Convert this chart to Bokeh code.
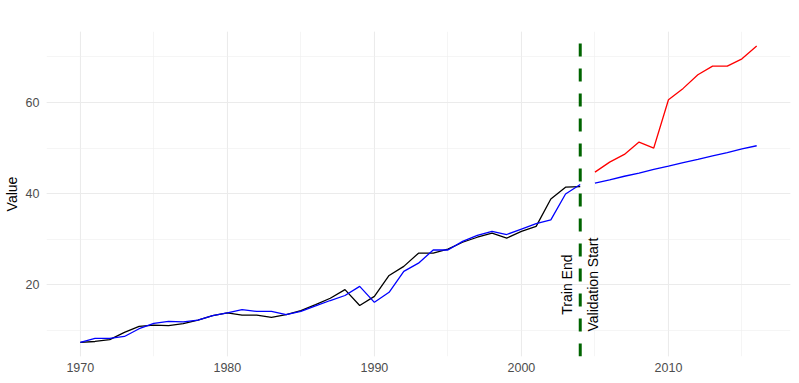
import math
from bokeh.plotting import figure
from bokeh.models import Range1d, SingleIntervalTicker, Span
from bokeh.core.properties import value
from bokeh.embed import file_html
from bokeh.resources import INLINE

# ---- data ----
train_years = list(range(1970, 2005))
actual = [7.3, 7.5, 7.9, 9.5, 10.8, 11.1, 11.0, 11.4, 12.2, 13.2,
          13.8, 13.3, 13.3, 12.8, 13.4, 14.3, 15.6, 17.0, 18.9, 15.4,
          17.4, 22.0, 24.0, 26.9, 26.9, 27.8, 29.3, 30.4, 31.3, 30.2,
          31.7, 32.8, 38.8, 41.4, 41.5]
fitted = [7.3, 8.2, 8.2, 8.6, 10.3, 11.5, 11.9, 11.8, 12.2, 13.2,
          13.8, 14.5, 14.1, 14.1, 13.4, 14.1, 15.3, 16.5, 17.6, 19.6,
          16.1, 18.3, 22.9, 24.7, 27.6, 27.6, 29.5, 30.8, 31.7, 31.0,
          32.2, 33.4, 34.2, 39.9, 42.0]
valid_years = list(range(2005, 2017))
valid_actual = [44.7, 46.9, 48.6, 51.3, 50.0, 60.6, 63.1, 66.1, 68.0, 68.0, 69.6, 72.4]
forecast = [42.3, 43.0, 43.8, 44.5, 45.3, 46.0, 46.8, 47.5, 48.3, 49.0, 49.8, 50.5]
train_end = 2004
label_y = 20
labels = ["Train End", "Validation Start"]
label_x = [2003.1, 2004.9]

FONT = "Liberation Sans"

p = figure(width=799, height=383, output_backend="svg", toolbar_location=None,
           x_range=Range1d(1967.7, 2018.3), y_range=Range1d(4.2, 75.6),
           min_border_left=46, min_border_right=9, min_border_top=31,
           min_border_bottom=27)
p.outline_line_color = None
p.background_fill_color = "white"

p.xaxis.ticker = SingleIntervalTicker(interval=10, num_minor_ticks=2)
p.yaxis.ticker = SingleIntervalTicker(interval=20, num_minor_ticks=2)
for ax in (p.xaxis, p.yaxis):
    ax.axis_line_color = None
    ax.major_tick_line_color = None
    ax.minor_tick_line_color = None
    ax.major_tick_out = 0
    ax.major_tick_in = 0
    ax.minor_tick_out = 0
    ax.minor_tick_in = 0
    ax.major_label_text_color = "#4d4d4d"
    ax.major_label_text_font = FONT
    ax.major_label_text_font_size = "12.5px"
p.xaxis.major_label_standoff = 6
p.yaxis.major_label_standoff = 7
p.yaxis.axis_label = "Value"
p.yaxis.axis_label_text_font = FONT
p.yaxis.axis_label_text_font_style = "normal"
p.yaxis.axis_label_text_font_size = "14px"
p.yaxis.axis_label_text_color = "black"
p.yaxis.axis_label_standoff = 3

for g in (p.xgrid, p.ygrid):
    g.grid_line_color = "#ebebeb"
    g.grid_line_width = 1.1
    g.minor_grid_line_color = "#efefef"
    g.minor_grid_line_width = 0.6

p.line(train_years, actual, line_color="black", line_width=1.3)
p.line(train_years, fitted, line_color="blue", line_width=1.3)
p.line(valid_years, valid_actual, line_color="red", line_width=1.3)
p.line(valid_years, forecast, line_color="blue", line_width=1.3)

p.add_layout(Span(location=train_end, dimension="height", line_color="#006400",
                  line_width=3, line_dash="13 12", line_dash_offset=13))

p.text(x=label_x, y=[label_y, label_y], text=labels, angle=math.pi / 2,
       text_align="center", text_baseline="middle",
       text_font=value(FONT), text_font_size="14px", text_color="black")

open("out.html", "w").write(file_html(p, INLINE))
